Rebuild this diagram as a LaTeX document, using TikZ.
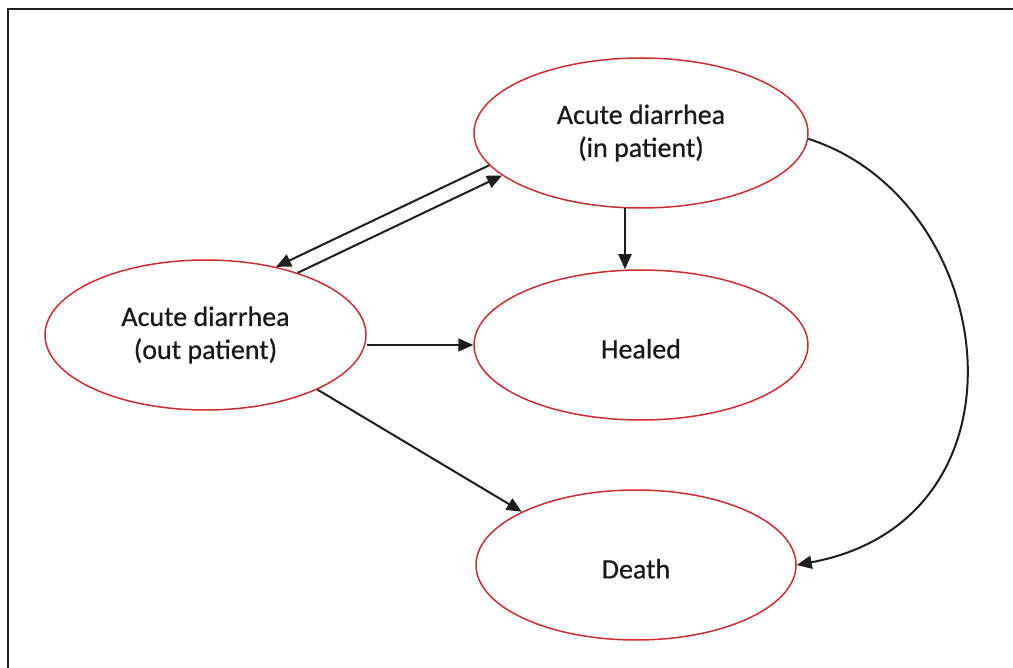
\documentclass[tikz,border=0pt]{standalone}
\usepackage{fontspec}
\setmainfont{Carlito}[FakeBold=0.6]
\usetikzlibrary{shapes.geometric,arrows.meta,calc}
\definecolor{ellred}{RGB}{205,45,50}
\definecolor{linegray}{RGB}{30,30,30}
\tikzset{
  state/.style={ellipse, draw=ellred, line width=1.5pt, inner sep=0pt, align=center,
    font=\fontsize{28}{33}\selectfont, text=black!90,
    execute at begin node=\rule{0pt}{27pt}},
  arr/.style={draw=linegray, line width=2pt, -{Triangle[length=15pt,width=13pt]}},
}
\begin{document}
\begin{tikzpicture}[x=1pt,y=-1pt]
\useasboundingbox (0,0) rectangle (1013,668);
\draw[line width=2pt, linegray] (8,668) -- (8,9) -- (1013,9);
\node[state, minimum width=334pt, minimum height=150pt] (in) at (641,133) {Acute diarrhea\\(in patient)};
\node[state, minimum width=321pt, minimum height=150pt] (out) at (205.5,335) {Acute diarrhea\\(out patient)};
\node[state, minimum width=334pt, minimum height=150pt] (healed) at (641,345) {Healed};
\node[state, minimum width=320pt, minimum height=150pt] (death) at (636,565) {Death};
\draw[arr] (in.192) -- (out.44);
\draw[arr] (out.34) -- (in.197);
\draw[arr] (in.258) -- (in.258 |- healed.north);
\draw[arr] (healed.west -| out.east) -- (healed.west);
\draw[arr] (out.334) -- (death.155);
\draw[arr] (in.358) .. controls (1000,200) and (1040,520) .. (death.east);
\end{tikzpicture}
\end{document}
